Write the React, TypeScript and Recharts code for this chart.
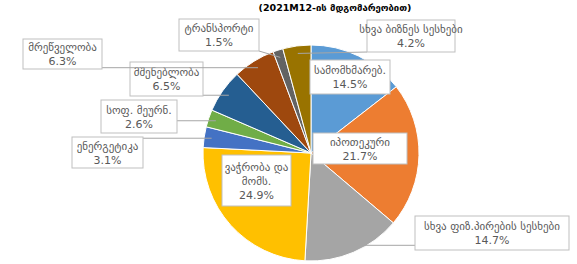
import React from "react"
import { PieChart, Pie, Cell } from "recharts"

// sectors, clockwise from 12 o'clock
const categories = [
  "სამომხმარებ.",
  "იპოთეკური",
  "სხვა ფიზ.პირების სესხები",
  "ვაჭრობა და\nმომს.",
  "ენერგეტიკა",
  "სოფ. მეურნ.",
  "მშენებლობა",
  "მრეწველობა",
  "ტრანსპორტი",
  "სხვა ბიზნეს სესხები",
]
const shares = [14.5, 21.7, 14.7, 24.9, 3.1, 2.6, 6.5, 6.3, 1.5, 4.2]

const colors = [
  "#5B9BD5", "#ED7D31", "#A5A5A5", "#FFC000", "#4472C4",
  "#70AD47", "#255E91", "#9E480E", "#636363", "#997300",
]

// label box layout (manual placement, like the original excel chart)
const labelBoxes = [
  { x: 310, y: 60, w: 80, h: 34, inside: true },
  { x: 313, y: 133, w: 94, h: 31, inside: true },
  { x: 415, y: 216, w: 154, h: 34, inside: false },
  { x: 222, y: 155, w: 69, h: 51, inside: true },
  { x: 72, y: 137, w: 71, h: 31, inside: false },
  { x: 101, y: 100, w: 76, h: 33, inside: false },
  { x: 130, y: 62, w: 73, h: 34, inside: false },
  { x: 23, y: 39, w: 79, h: 30, inside: false },
  { x: 179, y: 19, w: 80, h: 32, inside: false },
  { x: 367, y: 20, w: 88, h: 32, inside: false },
]

const data = categories.map((name, i) => ({ name, value: shares[i] }))

const RAD = Math.PI / 180
const LINE_H = 14

function renderLabel(props: any) {
  const { cx, cy, midAngle, outerRadius, index, value, name } = props
  const box = labelBoxes[index]
  const lines = [...String(name).split("\n"), `${Number(value).toFixed(1)}%`]
  const tx = box.x + box.w / 2
  const ty0 = box.y + (box.h - lines.length * LINE_H) / 2 + LINE_H * 0.8
  let leader = null
  if (!box.inside) {
    const r = outerRadius * 0.93
    const ax = cx + r * Math.cos(-midAngle * RAD)
    const ay = cy + r * Math.sin(-midAngle * RAD)
    const bx = Math.min(Math.max(ax, box.x), box.x + box.w)
    const by = Math.min(Math.max(ay, box.y), box.y + box.h)
    leader = <line x1={bx} y1={by} x2={ax} y2={ay} stroke="#A6A6A6" strokeWidth={1} />
  }
  return (
    <g key={`lbl-${index}`}>
      {leader}
      <rect x={box.x} y={box.y} width={box.w} height={box.h} fill="#FFFFFF" stroke="#BFBFBF" strokeWidth={1} />
      <text x={tx} y={ty0} textAnchor="middle" fill="#595959" fontSize={11} fontFamily="DejaVu Sans, sans-serif">
        {lines.map((l, k) => (
          <tspan key={k} x={tx} dy={k === 0 ? 0 : LINE_H}>{l}</tspan>
        ))}
      </text>
    </g>
  )
}

export default function App() {
  return (
    <div style={{ position: "absolute", left: 0, top: 0, width: 577, height: 264, background: "#fff" }}>
      <div
        style={{
          position: "absolute",
          left: 0,
          top: 1,
          width: 670,
          textAlign: "center",
          fontFamily: "DejaVu Sans, sans-serif",
          fontWeight: "bold",
          fontSize: 9.5,
          lineHeight: "13px",
          color: "#000",
        }}
      >
        (2021M12-ის მდგომარეობით)
      </div>
      <PieChart width={577} height={264}>
        <Pie
          data={data}
          dataKey="value"
          nameKey="name"
          cx={306}
          cy={148}
          outerRadius={108}
          startAngle={90}
          endAngle={-270}
          stroke="#FFFFFF"
          strokeWidth={1}
          label={renderLabel}
          labelLine={false}
          isAnimationActive={false}
        >
          {data.map((d, i) => (
            <Cell key={d.name} fill={colors[i]} />
          ))}
        </Pie>
      </PieChart>
    </div>
  )
}
